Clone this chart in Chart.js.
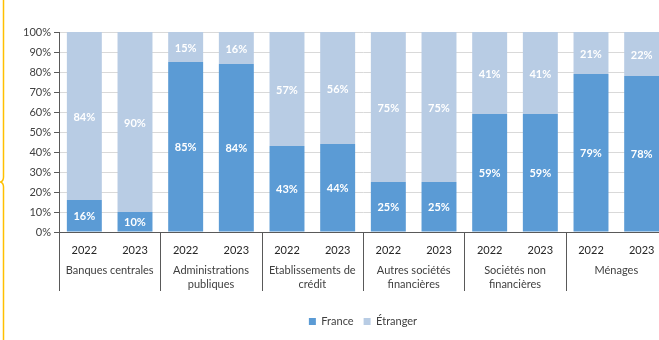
<!DOCTYPE html>
<html>
<head>
<meta charset="utf-8">
<script src="https://cdn.jsdelivr.net/npm/chart.js@4.4.0/dist/chart.umd.min.js"></script>
<style>
  html, body { margin: 0; padding: 0; background: #fff; overflow: hidden; }
  #wrap { position: relative; width: 668px; height: 340px; }
</style>
</head>
<body>
<div id="wrap"><canvas id="chart"></canvas></div>
<script>
const years = ['2022', '2023', '2022', '2023', '2022', '2023', '2022', '2023', '2022', '2023', '2022', '2023'];
const sectors = [
    'Banques centrales',
    ['Administrations', 'publiques'],
    ['Etablissements de', 'crédit'],
    ['Autres sociétés', 'financières'],
    ['Sociétés non', 'financières'],
    'Ménages'
];
const france = [16, 10, 85, 84, 43, 44, 25, 25, 59, 59, 79, 78];
const etranger = [84, 90, 15, 16, 57, 56, 75, 75, 41, 41, 21, 22];
const yTicks = [0, 10, 20, 30, 40, 50, 60, 70, 80, 90, 100];

const FONT = 'Lato, "Liberation Sans", sans-serif';
const TEXT = '#404040';

// white percentage labels in the middle of each segment
const segmentLabels = {
    id: 'segmentLabels',
    afterDatasetsDraw(chart) {
        const ctx = chart.ctx;
        ctx.save();
        ctx.font = 'bold 11px ' + FONT;
        ctx.fillStyle = '#ffffff';
        ctx.textAlign = 'center';
        ctx.textBaseline = 'middle';
        chart.data.datasets.forEach((ds, i) => {
            chart.getDatasetMeta(i).data.forEach((bar, j) => {
                const y = (bar.y + bar.base) / 2;
                ctx.fillText(ds.data[j] + '%', bar.x, y + 1);
            });
        });
        ctx.restore();
    }
};

// second row of the x axis: sector names and separators
const sectorAxis = {
    id: 'sectorAxis',
    afterDraw(chart) {
        const ctx = chart.ctx;
        const x = chart.scales.x;
        const area = chart.chartArea;
        const pitch = x.getPixelForValue(1) - x.getPixelForValue(0);
        ctx.save();
        ctx.strokeStyle = '#595959';
        ctx.lineWidth = 1;
        for (let g = 0; g <= sectors.length; g++) {
            const px = Math.round(x.getPixelForValue(g * 2) - pitch / 2) + 0.5;
            ctx.beginPath();
            ctx.moveTo(px, area.bottom);
            ctx.lineTo(px, 291);
            ctx.stroke();
        }
        ctx.font = '11px ' + FONT;
        ctx.fillStyle = TEXT;
        ctx.textAlign = 'center';
        ctx.textBaseline = 'middle';
        sectors.forEach((name, g) => {
            const cx = (x.getPixelForValue(g * 2) + x.getPixelForValue(g * 2 + 1)) / 2;
            const lines = Array.isArray(name) ? name : [name];
            lines.forEach((line, k) => ctx.fillText(line, cx, 270 + k * 14));
        });
        ctx.restore();
    }
};

// orange frame edge on the left of the panel
const frameEdge = {
    id: 'frameEdge',
    beforeDraw(chart) {
        const ctx = chart.ctx;
        ctx.save();
        ctx.strokeStyle = '#FFC000';
        ctx.lineWidth = 1.5;
        ctx.beginPath();
        ctx.moveTo(3.5, 0);
        ctx.lineTo(3.5, 177);
        ctx.quadraticCurveTo(3.5, 181, 0.5, 182);
        ctx.quadraticCurveTo(3.5, 183, 3.5, 187);
        ctx.lineTo(3.5, 340);
        ctx.stroke();
        ctx.restore();
    }
};

new Chart(document.getElementById('chart'), {
    type: 'bar',
    data: {
        labels: years,
        datasets: [
            { label: 'France', data: france, backgroundColor: '#5B9BD5' },
            { label: 'Étranger', data: etranger, backgroundColor: '#B8CCE4' }
        ]
    },
    options: {
        responsive: true,
        maintainAspectRatio: false,
        animation: false,
        barPercentage: 0.69,
        categoryPercentage: 1,
        layout: { padding: { top: 32, right: 1, bottom: 3, left: 0 } },
        plugins: {
            tooltip: { enabled: false },
            legend: {
                position: 'bottom',
                fullSize: false,
                labels: {
                    font: { family: FONT, size: 11 },
                    color: TEXT,
                    boxWidth: 7,
                    boxHeight: 7,
                    padding: 10
                }
            }
        },
        scales: {
            x: {
                stacked: true,
                grid: { display: false },
                border: { display: true, color: '#595959' },
                ticks: {
                    font: { family: FONT, size: 11 },
                    color: '#262626',
                    padding: 4,
                    maxRotation: 0
                },
                afterFit(scale) { scale.height = 74; }
            },
            y: {
                stacked: true,
                min: 0,
                max: 100,
                afterBuildTicks(scale) { scale.ticks = yTicks.map(v => ({ value: v })); },
                grid: { color: '#D9D9D9', tickColor: '#595959', tickLength: 5 },
                border: { display: true, color: '#595959' },
                ticks: {
                    font: { family: FONT, size: 11 },
                    color: TEXT,
                    padding: 3,
                    callback: v => v + '%'
                },
                afterFit(scale) { scale.width = 59; }
            }
        }
    },
    plugins: [segmentLabels, sectorAxis, frameEdge]
});
</script>
</body>
</html>
